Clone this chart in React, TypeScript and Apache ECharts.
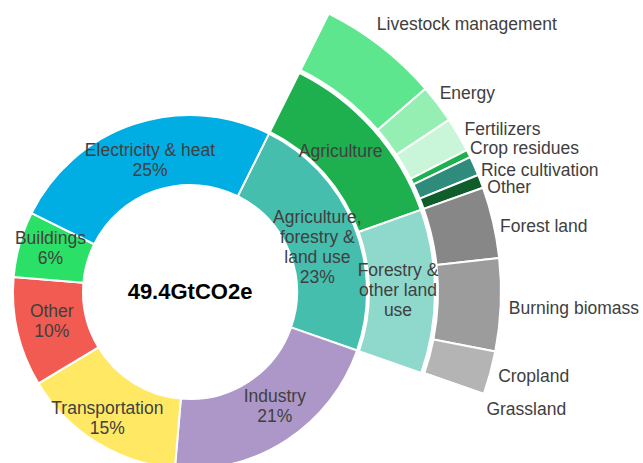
import React, { useEffect, useRef } from "react";
import * as echarts from "echarts";

// Inner ring: emission shares by sector (% of total)
const sectorNames = [
  "Agriculture,\nforestry &\nland use",
  "Industry",
  "Transportation",
  "Other",
  "Buildings",
  "Electricity & heat",
];
const sectorShares = [23, 21, 15, 10, 6, 25];
const sectorColors = ["#45BEAE", "#AC97C8", "#FFE964", "#F25B51", "#2BE066", "#00AEE4"];

// Middle ring: split of agriculture, forestry & land use (% of total)
const afoluNames = ["Agriculture", "Forestry &\nother land\nuse"];
const afoluShares = [12.2, 10.8];
const afoluColors = ["#1EB04F", "#8ED9CC"];

// Outer ring: detailed sources (% of total)
const detailNames = [
  "Livestock management",
  "Energy",
  "Fertilizers",
  "Crop residues",
  "Rice cultivation",
  "Other",
  "Forest land",
  "Burning biomass",
  "Cropland",
  "Grassland",
];
const detailShares = [6.3, 2.0, 1.8, 0.4, 1.0, 0.7, 3.7, 4.8, 2.25, 0.05];
const detailColors = [
  "#5DE68E",
  "#95EFB3",
  "#C9F6D8",
  "#1EB04F",
  "#2F8C7C",
  "#0F5D2A",
  "#878787",
  "#9C9C9C",
  "#B4B4B4",
  "#C8C8C8",
];

const TOTAL = 100;
const totalLabel = "49.4GtCO2e";

// label nudges (px) to mimic the reference's label placement
const sectorLabelShift = [
  [-7, 10],
  [6, -8],
  [-6, 3],
  [3, -4],
  [0, -5],
  [6, 6],
];
const afoluLabelShift = [
  [-8, 0],
  [-4, -1],
];
const detailLabelShift = [
  [-10, -18],
  [-5, -8],
  [-1, -3],
  [-6, -3],
  [-1, 6],
  [-1, 7],
  [-1, 5],
  [0, 3],
  [0, 2],
  [-5, 13],
];

const FONT = "Arial, 'Liberation Sans', sans-serif";
const FS = 17.5;
const TEXT_COLOR = "#404040";
const CX = 190;
const CY = 292;
const START = 63.5;
const MID_R: [number, number] = [179, 245];

function filler(used: number) {
  return {
    name: "",
    value: TOTAL - used,
    itemStyle: { color: "rgba(0,0,0,0)", borderWidth: 0 },
    label: { show: false },
    labelLine: { show: false },
  };
}

const sum = (a: number[]) => a.reduce((s, v) => s + v, 0);

export default function App() {
  const ref = useRef<HTMLDivElement>(null);

  useEffect(() => {
    if (!ref.current) return;
    const chart = echarts.init(ref.current, null, { renderer: "svg" });
    const center = [CX, CY];
    const common = {
      type: "pie",
      center,
      startAngle: START,
      clockwise: true,
      avoidLabelOverlap: false,
      silent: true,
      emphasis: { disabled: true },
      itemStyle: { borderColor: "#ffffff", borderWidth: 2 },
    };

    // middle-ring labels placed at each sector's centre (angle from the shares)
    const midR = (MID_R[0] + MID_R[1]) / 2;
    let cum = 0;
    const midLabels = afoluNames.map((n, i) => {
      const a = ((START - ((cum + afoluShares[i] / 2) / TOTAL) * 360) * Math.PI) / 180;
      cum += afoluShares[i];
      return {
        type: "text",
        x: CX + midR * Math.cos(a) + afoluLabelShift[i][0],
        y: CY - midR * Math.sin(a) + afoluLabelShift[i][1],
        z: 100,
        style: {
          text: n,
          align: "center",
          verticalAlign: "middle",
          font: `${FS}px ${FONT}`,
          lineHeight: 20,
          fill: TEXT_COLOR,
        },
      };
    });

    chart.setOption({
      animation: false,
      backgroundColor: "#ffffff",
      graphic: [
        {
          type: "text",
          x: CX,
          y: CY - 1,
          z: 100,
          style: {
            text: totalLabel,
            align: "center",
            verticalAlign: "middle",
            font: `bold 22px ${FONT}`,
            fill: "#000000",
          },
        },
        ...midLabels,
      ],
      series: [
        {
          ...common,
          name: "sectors",
          z: 5,
          radius: [107, 177],
          label: {
            show: true,
            position: "inside",
            fontFamily: FONT,
            fontSize: FS,
            lineHeight: 20,
            color: TEXT_COLOR,
            formatter: (p: any) => `${p.name}\n${p.value}%`,
          },
          labelLine: { show: false },
          labelLayout: (p: any) => ({
            dx: sectorLabelShift[p.dataIndex][0],
            dy: sectorLabelShift[p.dataIndex][1],
          }),
          data: sectorNames.map((n, i) => ({
            name: n,
            value: sectorShares[i],
            itemStyle: { color: sectorColors[i] },
          })),
        },
        {
          ...common,
          name: "afolu",
          z: 2,
          radius: MID_R,
          label: { show: false },
          labelLine: { show: false },
          data: [
            ...afoluNames.map((n, i) => ({
              name: n,
              value: afoluShares[i],
              itemStyle: { color: afoluColors[i] },
            })),
            filler(sum(afoluShares)),
          ],
        },
        {
          ...common,
          name: "details",
          z: 2,
          radius: [248, 311],
          label: {
            show: true,
            position: "outside",
            fontFamily: FONT,
            fontSize: FS,
            color: TEXT_COLOR,
            distanceToLabelLine: 3,
            formatter: (p: any) => p.name,
          },
          labelLine: { show: false, length: 5, length2: 0 },
          labelLayout: (p: any) =>
            detailLabelShift[p.dataIndex]
              ? { dx: detailLabelShift[p.dataIndex][0], dy: detailLabelShift[p.dataIndex][1] }
              : {},
          data: [
            ...detailNames.map((n, i) => ({
              name: n,
              value: detailShares[i],
              itemStyle: { color: detailColors[i] },
            })),
            filler(sum(detailShares)),
          ],
        },
      ],
    });
    return () => chart.dispose();
  }, []);

  return (
    <div
      ref={ref}
      style={{ position: "absolute", left: 0, top: 0, width: 643, height: 463 }}
    />
  );
}
